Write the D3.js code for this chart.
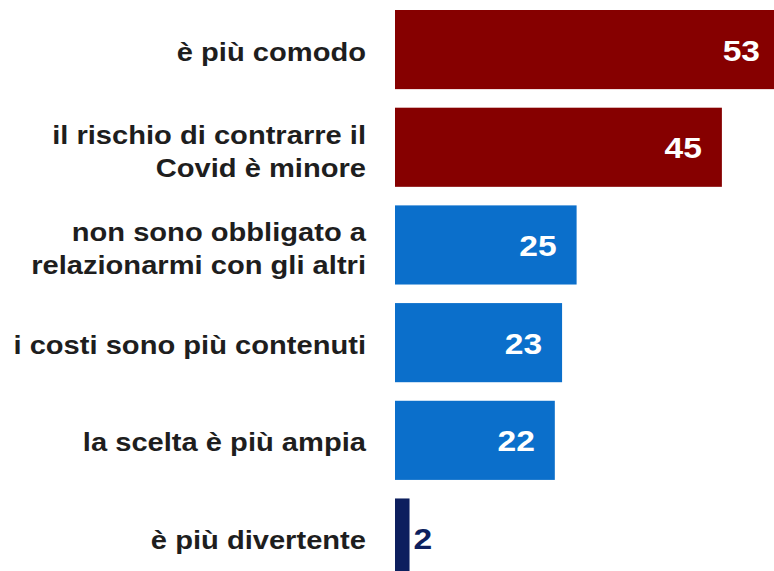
<!DOCTYPE html>
<html>
<head>
<meta charset="utf-8">
<script src="https://cdn.jsdelivr.net/npm/d3@7"></script>
<style>
  html, body { margin: 0; padding: 0; background: #fff; }
  svg { display: block; }
</style>
</head>
<body>
<svg id="chart" width="774" height="571"></svg>
<script>
const categories = [
  "è più comodo",
  "il rischio di contrarre il\nCovid è minore",
  "non sono obbligato a\nrelazionarmi con gli altri",
  "i costi sono più contenuti",
  "la scelta è più ampia",
  "è più divertente"
];
const values = [53, 45, 25, 23, 22, 2];
const barColors = ["#860000", "#860000", "#0b6fcb", "#0b6fcb", "#0b6fcb", "#0d1f5e"];

const svg = d3.select("#chart");

const x = d3.scaleLinear().domain([0, 53]).range([395, 780]);
const y = d3.scaleBand().domain(categories).range([10, 577.6]).paddingInner(0.19).paddingOuter(0);

const data = categories.map((c, i) => ({ c, v: values[i], col: barColors[i] }));

svg.append("g").selectAll("rect").data(data).enter().append("rect")
  .attr("x", x(0))
  .attr("y", d => y(d.c))
  .attr("width", d => x(d.v) - x(0))
  .attr("height", y.bandwidth())
  .attr("fill", d => d.col);

const sx = 1.12;
const vg = svg.append("g");
data.forEach(d => {
  const inside = (x(d.v) - x(0)) > 50;
  const cy = y(d.c) + y.bandwidth() / 2;
  const tx = inside ? x(d.v) - 20 : x(d.v) + 4;
  vg.append("text")
    .attr("transform", `translate(${tx},${cy + 11}) scale(${sx},1)`)
    .attr("text-anchor", inside ? "end" : "start")
    .attr("font-family", "Liberation Sans, Arial, sans-serif")
    .attr("font-weight", "bold")
    .attr("font-size", 30)
    .attr("fill", inside ? "#ffffff" : d.col)
    .text(d.v);
});

const lg = svg.append("g");
data.forEach(d => {
  const lines = d.c.split("\n");
  const cy = y(d.c) + y.bandwidth() / 2;
  const lh = 33;
  const off = lines.length > 1 ? 13 : 11;
  const t = lg.append("text")
    .attr("transform", `translate(366,${cy}) scale(${sx},1)`)
    .attr("text-anchor", "end")
    .attr("font-family", "Liberation Sans, Arial, sans-serif")
    .attr("font-weight", "bold")
    .attr("font-size", 26)
    .attr("fill", "#1e1e1e");
  lines.forEach((ln, i) => {
    t.append("tspan")
      .attr("x", 0)
      .attr("y", (i - (lines.length - 1) / 2) * lh + off)
      .text(ln);
  });
});
</script>
</body>
</html>
